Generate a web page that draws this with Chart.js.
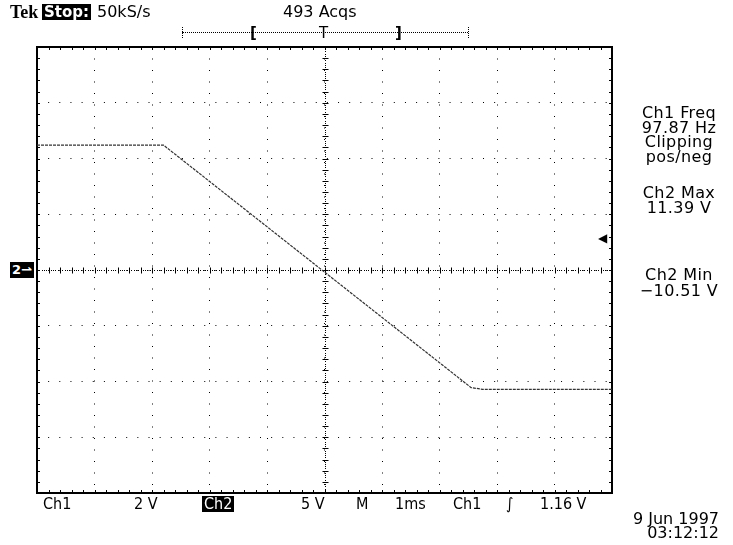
<!DOCTYPE html>
<html lang="en">
<head>
  <meta charset="UTF-8" />
  <title>Tek scope capture</title>
  <script src="https://cdn.jsdelivr.net/npm/chart.js"></script>
  <style>
    body { margin: 0; background: #fff; }
    #wrap { position: relative; width: 733px; height: 545px; overflow: hidden; }
    #scope { position: absolute; left: 0; top: 0; }
    .t { position: absolute; font-family: "DejaVu Sans", sans-serif; font-size: 16px; color: #000; white-space: nowrap; line-height: 16px; }
    .inv { background: #000; color: #fff; padding: 0 2px; }
    .bot { font-family: "DejaVu Sans Condensed", "DejaVu Sans", sans-serif; top: 496px; }
    .side { position: absolute; left: 628px; width: 102px; text-align: center; font-family: "DejaVu Sans", sans-serif; font-size: 16px; line-height: 14.5px; letter-spacing: 0.4px; }
    .br { font-size: 15px; line-height: 14px; top: 26px; font-weight: bold; }
    #trigbar { position: absolute; left: 182px; top: 32px; width: 286px; border-top: 1px dotted #000; }
    .endmark { position: absolute; top: 27px; height: 11px; border-left: 1px dotted #000; }
  </style>
</head>
<body>
<div id="wrap">
  <canvas id="scope" width="733" height="545"></canvas>

  <div class="t" style="left:10px;top:4px;font-family:'Liberation Serif',serif;font-weight:bold;font-size:18px;">Tek</div>
  <div class="t inv" style="left:42px;top:4px;font-weight:bold;font-size:15px;">Stop:</div>
  <div class="t" style="left:97px;top:4px;">50kS/s</div>
  <div class="t" style="left:283px;top:4px;">493 Acqs</div>

  <div id="trigbar"></div>
  <div class="endmark" style="left:182px"></div>
  <div class="endmark" style="left:468px"></div>
  <div class="t br" style="left:250px;">[</div>
  <div class="t br" style="left:319px;font-weight:normal;">T</div>
  <div class="t br" style="left:395px;">]</div>

  <div class="t inv" style="left:10px;top:262px;font-size:13px;font-weight:bold;">2&#8640;</div>
  <div class="t" style="left:598px;top:230px;font-size:12px;">&#9664;</div>

  <div class="side" style="top:106px">Ch1 Freq<br>97.87 Hz<br>Clipping<br>pos/neg</div>
  <div class="side" style="top:185px;line-height:15px;">Ch2 Max<br>11.39 V</div>
  <div class="side" style="top:267px;line-height:16px;">Ch2 Min<br>&minus;10.51 V</div>

  <div class="t bot" style="left:43px;">Ch1</div>
  <div class="t bot" style="left:134px;">2 V</div>
  <div class="t bot inv" style="left:202px;">Ch2</div>
  <div class="t bot" style="left:301px;">5 V</div>
  <div class="t bot" style="left:356px;">M</div>
  <div class="t bot" style="left:395px;">1ms</div>
  <div class="t bot" style="left:453px;">Ch1</div>
  <div class="t bot" style="left:506px;font-style:italic;">&#x222B;</div>
  <div class="t bot" style="left:540px;">1.16 V</div>

  <div class="t" style="right:14px;top:512px;text-align:right;line-height:14px;">9 Jun 1997<br>03:12:12</div>
</div>

<script>
  // trace vertices (time in ms, Ch2 in volts)
  const traceTime = [-5, -2.8, 2.55, 2.75, 5];
  const traceVolts = [11.2, 11.2, -10.55, -10.7, -10.7];

  // graticule: 10 x 1ms, 8 x 5V
  const timeMin = -5, timeMax = 5;
  const voltMin = -20, voltMax = 20;

  const points = traceTime.map((t, i) => ({ x: t, y: traceVolts[i] }));

  // draws the scope frame, border ticks and centre crosshair
  const graticule = {
    id: 'graticule',
    beforeDatasetsDraw(chart) {
      const { ctx, chartArea: a, scales: { x, y } } = chart;
      const x0 = Math.round(x.getPixelForValue(0)) + 0.5;
      const y0 = Math.round(y.getPixelForValue(0)) + 0.5;
      ctx.save();
      ctx.strokeStyle = '#000';
      ctx.fillStyle = '#000';
      ctx.lineWidth = 1;
      ctx.beginPath();
      for (let v = timeMin; v <= timeMax + 1e-6; v += 0.2) {
        const px = Math.round(x.getPixelForValue(v)) + 0.5;
        ctx.moveTo(px, a.top); ctx.lineTo(px, a.top + 3);
        ctx.moveTo(px, a.bottom); ctx.lineTo(px, a.bottom - 3);
        ctx.moveTo(px, y0 - 3); ctx.lineTo(px, y0 + 3);
      }
      for (let v = voltMin; v <= voltMax + 1e-6; v += 1) {
        const py = Math.round(y.getPixelForValue(v)) + 0.5;
        ctx.moveTo(a.left, py); ctx.lineTo(a.left + 3, py);
        ctx.moveTo(a.right, py); ctx.lineTo(a.right - 3, py);
        ctx.moveTo(x0 - 3, py); ctx.lineTo(x0 + 3, py);
      }
      ctx.stroke();
      // fine dots along the centre lines
      for (let v = timeMin; v <= timeMax + 1e-6; v += 0.04) {
        ctx.fillRect(Math.round(x.getPixelForValue(v)), y0 - 0.5, 1, 1);
      }
      for (let v = voltMin; v <= voltMax + 1e-6; v += 0.2) {
        ctx.fillRect(x0 - 0.5, Math.round(y.getPixelForValue(v)), 1, 1);
      }
      ctx.lineWidth = 2;
      ctx.strokeRect(a.left, a.top, a.right - a.left, a.bottom - a.top);
      ctx.restore();
    }
  };

  new Chart(document.getElementById('scope'), {
    type: 'line',
    data: {
      datasets: [{
        data: points,
        borderColor: '#333',
        borderWidth: 1.2,
        borderDash: [3, 1],
        pointRadius: 0,
        tension: 0
      }]
    },
    options: {
      responsive: false,
      animation: false,
      layout: { padding: { left: 37, top: 47, right: 121, bottom: 52 } },
      plugins: { legend: { display: false }, tooltip: { enabled: false } },
      scales: {
        x: {
          type: 'linear', min: timeMin, max: timeMax,
          ticks: { display: false, stepSize: 1 },
          grid: { color: '#000', lineWidth: 1, drawTicks: false },
          border: { display: false, dash: [1, 10.5] }
        },
        y: {
          min: voltMin, max: voltMax,
          ticks: { display: false, stepSize: 5 },
          grid: { color: '#000', lineWidth: 1, drawTicks: false },
          border: { display: false, dash: [1, 10.15] }
        }
      }
    },
    plugins: [graticule]
  });
</script>
</body>
</html>
